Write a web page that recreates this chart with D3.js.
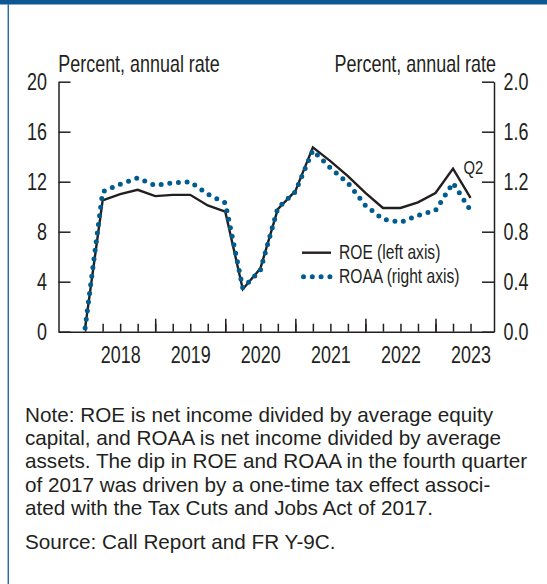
<!DOCTYPE html>
<html><head><meta charset="utf-8">
<script src="https://cdn.jsdelivr.net/npm/d3@7/dist/d3.min.js"></script>
<style>
body{margin:0;background:#fff}
.ax text{font-family:'Liberation Sans',Arial,sans-serif;fill:#231f20}
</style>
</head><body><svg id="c" width="547" height="584"></svg>
<script>
// ---- data ----
const quarters = ["2017Q4","2018Q1","2018Q2","2018Q3","2018Q4","2019Q1","2019Q2","2019Q3","2019Q4",
  "2020Q1","2020Q2","2020Q3","2020Q4","2021Q1","2021Q2","2021Q3","2021Q4",
  "2022Q1","2022Q2","2022Q3","2022Q4","2023Q1","2023Q2"];
const roe = [0.3,10.5,11.0,11.35,10.85,10.95,10.95,10.1,9.6,
  3.4,5.05,9.8,11.25,14.75,13.65,12.45,11.1,
  9.9,9.9,10.35,11.1,13.05,10.7];
const roaa = [0.03,1.12,1.18,1.23,1.17,1.19,1.20,1.10,1.03,
  0.35,0.49,0.99,1.12,1.45,1.31,1.19,1.01,
  0.90,0.875,0.93,0.97,1.19,0.97];
const leftTicks = [0,4,8,12,16,20];
const rightTicks = [0,0.4,0.8,1.2,1.6,2.0];
const years = [2018,2019,2020,2021,2022,2023];
const seriesNames = ["ROE (left axis)","ROAA (right axis)"];
const axisTitle = "Percent, annual rate";
const lastLabel = "Q2";
const noteLines = [
  "Note: ROE is net income divided by average equity",
  "capital, and ROAA is net income divided by average",
  "assets. The dip in ROE and ROAA in the fourth quarter",
  "of 2017 was driven by a one-time tax effect associ-",
  "ated with the Tax Cuts and Jobs Act of 2017."
];
const sourceLine = "Source: Call Report and FR Y-9C.";

// ---- helpers ----
const qnum = q => +q.slice(0,4) + (+q.slice(5))/4;  // quarter end as year fraction
const data = quarters.map((q,i)=>({t:qnum(q), roe:roe[i], roaa:roaa[i]}));

const svg = d3.select("#c");
const SANS = "'Liberation Sans',Arial,sans-serif";
const TXT = "#231f20";
const SX = 0.78; // condensed look (narrow sans)
function narrow(sel){
  sel.each(function(){
    const t = d3.select(this);
    const xv = +(t.attr("x")||0);
    t.attr("x", xv/SX).attr("transform", `scale(${SX},1)`);
  });
}
function ntext(px, py, str, size, anchor){
  const g = svg.append("g").attr("transform",`translate(${px},${py})`);
  g.append("text").attr("transform",`scale(${SX},1)`).attr("font-family",SANS).attr("font-size",size)
    .attr("text-anchor",anchor||"start").attr("fill",TXT).text(str);
  return g;
}

// frame
svg.append("rect").attr("x",0).attr("y",0).attr("width",547).attr("height",584).attr("fill","#fff");
svg.append("rect").attr("x",0).attr("y",0).attr("width",547).attr("height",4.5).attr("fill","#0b5893");
svg.append("line").attr("x1",8.3).attr("x2",8.3).attr("y1",4).attr("y2",584)
  .attr("stroke","#2f6ea3").attr("stroke-width",1.5);

// scales
const x = d3.scaleLinear().domain([2017.62, 2023.835]).range([58.5, 494]);
const yL = d3.scaleLinear().domain([0,20]).range([331.7, 81.7]);
const yR = d3.scaleLinear().domain([0,2]).range([331.7, 81.7]);

const FS = 23;

// left axis
const gL = svg.append("g").attr("class","ax").attr("transform","translate(58.5,0)")
  .call(d3.axisLeft(yL).tickValues(leftTicks).tickSize(-12).tickSizeOuter(0).tickPadding(11.5).tickFormat(d3.format("d")));
// right axis
const gR = svg.append("g").attr("class","ax").attr("transform","translate(494,0)")
  .call(d3.axisRight(yR).tickValues(rightTicks).tickSize(-12).tickSizeOuter(0).tickPadding(9.5).tickFormat(d3.format(".1f")));
[gL,gR].forEach(g=>{
  g.selectAll("text").attr("font-size",FS).attr("dy","0.34em").call(narrow);
  g.selectAll("line,path").attr("stroke","#231f20").attr("stroke-width",1.5);
});

// bottom axis: minor quarterly, major yearly, labels mid-year
const qTicks = quarters.slice(1).map(qnum);
const gB1 = svg.append("g").attr("class","ax").attr("transform","translate(0,331.7)")
  .call(d3.axisBottom(x).tickValues(qTicks).tickSize(-8).tickSizeOuter(0).tickFormat(""));
const gB2 = svg.append("g").attr("class","ax").attr("transform","translate(0,331.7)")
  .call(d3.axisBottom(x).tickValues(years).tickSize(-13).tickSizeOuter(0).tickFormat(""));
const gB3 = svg.append("g").attr("class","ax").attr("transform","translate(0,331.7)")
  .call(d3.axisBottom(x).tickValues(years.map(y=>y+0.5)).tickSize(0).tickSizeOuter(0).tickPadding(14.6).tickFormat(d=>String(Math.floor(d))));
[gB1,gB2,gB3].forEach(g=>{
  g.selectAll("line,path").attr("stroke","#231f20").attr("stroke-width",1.5);
  g.selectAll("text").attr("font-size",FS).call(narrow);
});
gB2.select(".domain").remove(); gB3.select(".domain").remove();

// axis titles
ntext(58.3, 71.7, axisTitle, FS);
ntext(496, 71.7, axisTitle, FS, "end");

// lines
const lineROE = d3.line().x(d=>x(d.t)).y(d=>yL(d.roe));
const lineROAA = d3.line().x(d=>x(d.t)).y(d=>yR(d.roaa));
svg.append("path").datum(data).attr("d",lineROE).attr("fill","none")
  .attr("stroke","#231f20").attr("stroke-width",2.4).attr("stroke-linejoin","miter");
svg.append("path").datum(data).attr("d",lineROAA).attr("fill","none")
  .attr("stroke","#005b8f").attr("stroke-width",5).attr("stroke-linecap","round")
  .attr("stroke-dasharray","0 8.7");

// Q2 label
const last = data[data.length-1];
ntext(x(last.t)-7, 174.3, lastLabel, 19);

// legend
svg.append("line").attr("x1",302).attr("x2",331).attr("y1",252.7).attr("y2",252.7)
  .attr("stroke","#231f20").attr("stroke-width",2.4);
ntext(339, 259.3, seriesNames[0], 20);
svg.append("line").attr("x1",303.5).attr("x2",331).attr("y1",276.7).attr("y2",276.7)
  .attr("stroke","#005b8f").attr("stroke-width",5).attr("stroke-linecap","round").attr("stroke-dasharray","0 8.8");
ntext(339, 283.3, seriesNames[1], 20);

// notes
noteLines.forEach((s,i)=>{
  svg.append("text").attr("x",25).attr("y",421.7+i*23.3).attr("font-family",SANS).attr("font-size",20.7)
    .attr("fill",TXT).text(s);
});
svg.append("text").attr("x",25).attr("y",549.3).attr("font-family",SANS).attr("font-size",20.7)
  .attr("fill",TXT).text(sourceLine);
</script>
</body></html>
